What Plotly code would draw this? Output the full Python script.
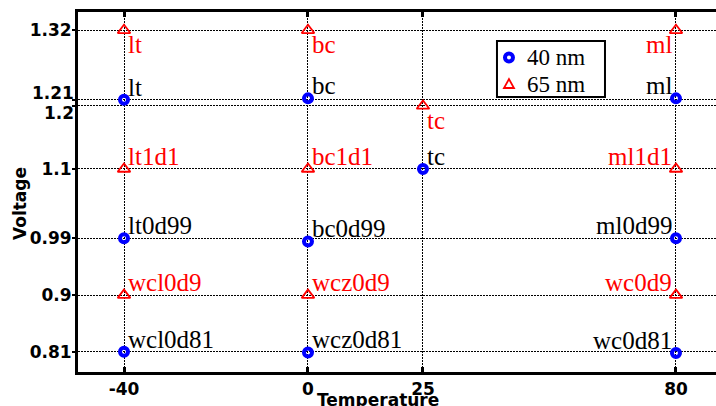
import plotly.graph_objects as go

# ---- data ----
temps_40 = [-40, 0, 80, 25, -40, 0, 80, -40, 0, 80]
volts_40 = [1.21, 1.212, 1.212, 1.10, 0.99, 0.985, 0.99, 0.81, 0.809, 0.808]
labels_40 = ["lt", "bc", "ml", "tc", "lt0d99", "bc0d99", "ml0d99", "wcl0d81", "wcz0d81", "wc0d81"]

temps_65 = [-40, 0, 80, 25, -40, 0, 80, -40, 0, 80]
volts_65 = [1.32, 1.32, 1.32, 1.20, 1.10, 1.10, 1.10, 0.90, 0.90, 0.90]
labels_65 = ["lt", "bc", "ml", "tc", "lt1d1", "bc1d1", "ml1d1", "wcl0d9", "wcz0d9", "wc0d9"]

x_ticks = [-40, 0, 25, 80]
y_ticks = [0.81, 0.9, 0.99, 1.1, 1.2, 1.21, 1.32]
crowded_y = [1.2, 1.21]   # tick labels drawn apart by hand

series_names = ["40 nm", "65 nm"]

BLUE = "#0000ff"
RED = "#ff0000"
LABEL_FONT = "Liberation Serif, Times New Roman, Times, DejaVu Serif, serif"
AXIS_FONT = "DejaVu Sans, Verdana, sans-serif"
TICK_SIZE = 17

fig = go.Figure()
fig.add_trace(go.Scatter(
    x=temps_40, y=volts_40, mode="markers", name=series_names[0], showlegend=False,
    marker=dict(symbol="circle-open", size=8, color=BLUE, line=dict(width=4, color=BLUE)),
))
fig.add_trace(go.Scatter(
    x=temps_65, y=volts_65, mode="markers", name=series_names[1], showlegend=False,
    marker=dict(symbol="triangle-up-open", size=11, color=RED, line=dict(width=1.8, color=RED)),
))

xmax = max(temps_40 + temps_65)
annotations = []
for xs, ys, labs, color, is65 in [(temps_40, volts_40, labels_40, "black", False),
                                  (temps_65, volts_65, labels_65, RED, True)]:
    for x, y, t in zip(xs, ys, labs):
        left_side = (x == xmax)
        below = is65 and y >= 1.2
        annotations.append(dict(
            x=x, y=y, xref="x", yref="y", text=t, showarrow=False,
            font=dict(family=LABEL_FONT, size=25, color=color),
            xanchor="right" if left_side else "left",
            yanchor="top" if below else "bottom",
            xshift=-2 if left_side else 2,
            yshift=1 if below else -3,
        ))

# hand-placed crowded y tick labels (drawn apart, as in the original)
for v, dy in zip(crowded_y, [-7, 7]):
    annotations.append(dict(
        x=0, y=v, xref="paper", yref="y", text=f"{v:g}", showarrow=False,
        font=dict(family=AXIS_FONT, size=TICK_SIZE, color="black", weight="bold"),
        xanchor="right", yanchor="middle", xshift=-3, yshift=dy,
        borderpad=0,
    ))

annotations.append(dict(
    x=0.47, y=0, xref="paper", yref="paper", text="Temperature", showarrow=False,
    font=dict(family=AXIS_FONT, size=17, color="black", weight="bold"),
    xanchor="center", yanchor="top", yshift=-16,
))
annotations.append(dict(
    x=-0.0909, y=0.4667, xref="paper", yref="paper", text="Voltage", showarrow=False,
    font=dict(family=AXIS_FONT, size=17, color="black", weight="bold"),
    xanchor="center", yanchor="middle", textangle=-90,
))

# ---- compact legend box (MATLAB style) ----
LEG_X0, LEG_X1, LEG_Y0, LEG_Y1 = 0.6567, 0.826, 0.7639, 0.9194
key_x = LEG_X0 + 12 / 638
row_y = [LEG_Y1 - 16.5 / 360, LEG_Y1 - 43 / 360]
shapes = [dict(type="rect", xref="paper", yref="paper", x0=LEG_X0, x1=LEG_X1, y0=LEG_Y0, y1=LEG_Y1,
               line=dict(color="black", width=2), fillcolor="white", layer="above")]
shapes.append(dict(type="circle", xref="paper", yref="paper", xsizemode="pixel", ysizemode="pixel",
                   xanchor=key_x, yanchor=row_y[0], x0=-4, x1=4, y0=-4, y1=4,
                   line=dict(color=BLUE, width=4), layer="above"))
shapes.append(dict(type="path", xref="paper", yref="paper", xsizemode="pixel", ysizemode="pixel",
                   xanchor=key_x, yanchor=row_y[1], path="M -5,-4 L 5,-4 L 0,5 Z",
                   line=dict(color=RED, width=1.8), layer="above"))
for name, ry in zip(series_names, row_y):
    annotations.append(dict(
        x=key_x, y=ry, xref="paper", yref="paper", text=name, showarrow=False,
        font=dict(family=LABEL_FONT, size=23, color="black"),
        xanchor="left", yanchor="middle", xshift=17, yshift=0,
        borderpad=0,
    ))

fig.update_layout(
    width=716, height=406,
    margin=dict(l=78, r=0, t=12, b=34),
    paper_bgcolor="white", plot_bgcolor="white",
    annotations=annotations, shapes=shapes,
    showlegend=False,
    xaxis=dict(
        range=[-50, 88.7], tickmode="array", tickvals=x_ticks,
        ticktext=[str(v) for v in x_ticks],
        showgrid=True, gridcolor="black", gridwidth=1, griddash="2px,1px",
        zeroline=False, showline=True, linecolor="black", linewidth=3, mirror="ticks",
        ticks="inside", ticklen=5, tickwidth=3, tickcolor="black",
        tickfont=dict(family=AXIS_FONT, size=TICK_SIZE, color="black", weight="bold"),
    ),
    yaxis=dict(
        range=[0.778, 1.349], tickmode="array", tickvals=y_ticks,
        ticktext=["" if v in crowded_y else f"{v:g}" for v in y_ticks],
        showgrid=True, gridcolor="black", gridwidth=1, griddash="2px,1px",
        zeroline=False, showline=True, linecolor="black", linewidth=3, mirror=False,
        ticks="outside", ticklen=3, tickwidth=2, tickcolor="black",
        ticklabelstandoff=-3,
        tickfont=dict(family=AXIS_FONT, size=TICK_SIZE, color="black", weight="bold"),
    ),
)

fig.write_html("out.html")
